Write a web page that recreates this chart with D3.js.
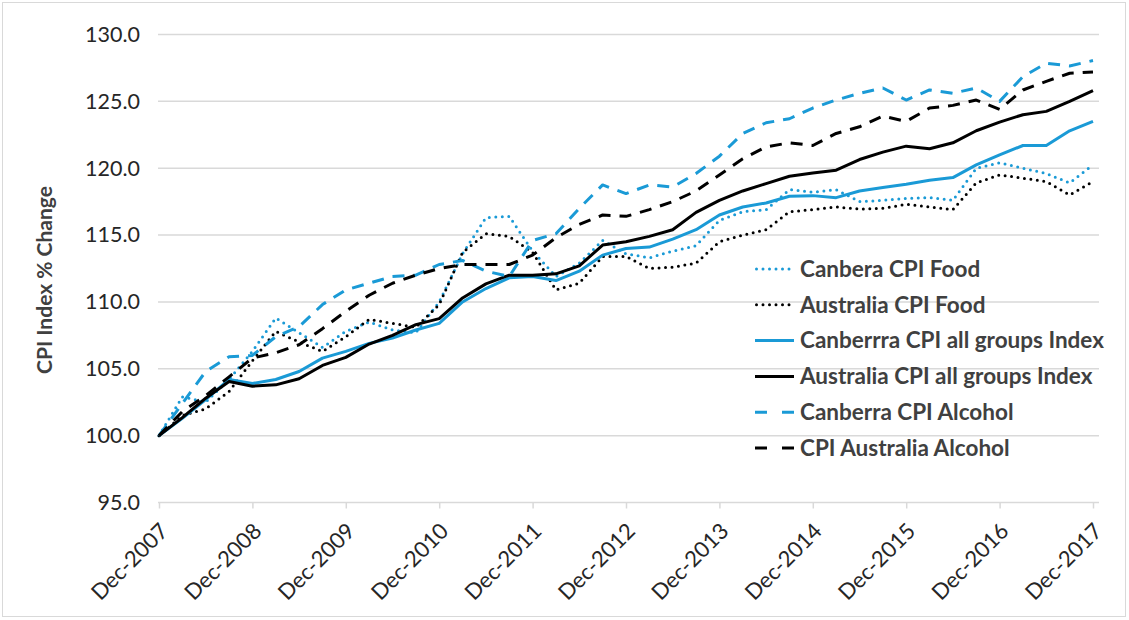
<!DOCTYPE html>
<html lang="en">
<head>
    <meta charset="UTF-8">
    <title>CPI Index % Change</title>
    <script src="https://cdnjs.cloudflare.com/ajax/libs/d3/7.8.5/d3.min.js"></script>
    <style>
        body{margin:0; background:#fff;}
        svg{display:block;}
        .tick text{font-family:Lato, "Open Sans", sans-serif; fill:#262626;}
    </style>
</head>
<body>
    <svg id="chart" width="1129" height="620"></svg>
    <script>
        // quarterly categories, Dec-2007 .. Dec-2017
        var quarters = [
            "Dec-2007","Mar-2008","Jun-2008","Sep-2008","Dec-2008","Mar-2009","Jun-2009","Sep-2009",
            "Dec-2009","Mar-2010","Jun-2010","Sep-2010","Dec-2010","Mar-2011","Jun-2011","Sep-2011",
            "Dec-2011","Mar-2012","Jun-2012","Sep-2012","Dec-2012","Mar-2013","Jun-2013","Sep-2013",
            "Dec-2013","Mar-2014","Jun-2014","Sep-2014","Dec-2014","Mar-2015","Jun-2015","Sep-2015",
            "Dec-2015","Mar-2016","Jun-2016","Sep-2016","Dec-2016","Mar-2017","Jun-2017","Sep-2017",
            "Dec-2017"
        ];
        var xTickLabels = ["Dec-2007","Dec-2008","Dec-2009","Dec-2010","Dec-2011","Dec-2012",
                           "Dec-2013","Dec-2014","Dec-2015","Dec-2016","Dec-2017"];
        var yTicks = [95,100,105,110,115,120,125,130];

        var canberraFood = [100,102.9,102.5,104.2,106.3,108.8,107.7,106.6,107.8,108.5,107.9,107.7,110.0,
            113.6,116.3,116.4,113.8,111.9,112.9,114.6,113.6,113.3,113.8,114.2,116.1,116.75,116.9,118.4,
            118.2,118.4,117.5,117.6,117.75,117.8,117.6,120.0,120.4,120.0,119.6,118.9,120.25];
        var australiaFood = [100,101.5,102.0,103.3,105.6,107.8,107.0,106.3,107.4,108.7,108.4,108.1,109.8,
            113.7,115.1,114.9,113.7,110.9,111.4,113.4,113.4,112.5,112.6,112.9,114.5,115.0,115.4,116.75,
            116.9,117.1,116.95,117.0,117.3,117.1,116.9,118.9,119.5,119.25,119.0,118.0,119.0];
        var canberraAll = [100,101.3,102.7,104.2,103.9,104.2,104.8,105.8,106.3,106.9,107.3,107.9,108.4,
            110.0,111.0,111.8,111.9,111.6,112.3,113.5,114.0,114.1,114.7,115.4,116.5,117.1,117.4,117.9,
            117.95,117.8,118.3,118.55,118.8,119.1,119.3,120.25,121.0,121.7,121.7,122.8,123.5];
        var australiaAll = [100,101.35,102.8,104.05,103.7,103.8,104.25,105.25,105.85,106.85,107.5,108.3,108.75,
            110.3,111.35,112.0,112.0,112.1,112.7,114.25,114.5,114.9,115.4,116.7,117.6,118.3,118.85,119.4,
            119.65,119.85,120.65,121.2,121.65,121.45,121.9,122.8,123.45,124.0,124.25,125.0,125.8];
        var canberraAlcohol = [100,102.4,104.8,105.9,106.0,107.4,108.15,109.8,110.9,111.4,111.9,112.0,112.8,
            113.1,112.3,111.9,114.6,115.1,117.0,118.75,118.1,118.75,118.6,119.6,120.9,122.6,123.4,123.7,
            124.5,125.1,125.6,126.0,125.1,125.85,125.6,126.0,125.0,126.85,127.85,127.65,128.05];
        var australiaAlcohol = [100,101.8,103.0,104.4,105.8,106.2,106.8,108.0,109.3,110.5,111.4,112.0,112.5,
            112.8,112.8,112.8,113.5,114.8,115.8,116.5,116.4,116.9,117.5,118.3,119.5,120.7,121.6,121.9,
            121.7,122.6,123.1,123.9,123.5,124.5,124.7,125.1,124.4,125.85,126.5,127.1,127.2];

        var blue = "#1a9ad6";
        var series = [
            {name:"Canbera CPI Food", values:canberraFood, color:blue, dash:"0,6.5", cap:"round"},
            {name:"Australia CPI Food", values:australiaFood, color:"#000", dash:"0,6.5", cap:"round"},
            {name:"Canberrra CPI all groups Index", values:canberraAll, color:blue, dash:null, cap:"butt"},
            {name:"Australia CPI all groups Index", values:australiaAll, color:"#000", dash:null, cap:"butt"},
            {name:"Canberra CPI Alcohol", values:canberraAlcohol, color:blue, dash:"12,9", cap:"butt"},
            {name:"CPI Australia Alcohol", values:australiaAlcohol, color:"#000", dash:"12,9", cap:"butt"}
        ];

        var svg = d3.select("#chart");
        var plotLeft = 158, plotRight = 1099;

        svg.append("rect")
           .attr("x",2.5).attr("y",2.5).attr("width",1123).attr("height",614)
           .attr("fill","#fff").attr("stroke","#d9d9d9");

        var xScale = d3.scalePoint().domain(quarters).range([159,1093]);
        var yScale = d3.scaleLinear().domain([95,130]).range([502.5,34.5]);

        // gridlines
        svg.append("g").selectAll("line")
           .data(yTicks.slice(1))
           .enter().append("line")
           .attr("x1",plotLeft).attr("x2",plotRight)
           .attr("y1",function(d){ return yScale(d); })
           .attr("y2",function(d){ return yScale(d); })
           .attr("stroke","#d9d9d9").attr("stroke-width",1.5);

        // y axis labels
        var yAxis = d3.axisLeft(yScale).tickValues(yTicks).tickFormat(d3.format(".1f")).tickSize(0).tickPadding(18);
        var gy = svg.append("g").attr("transform","translate("+plotLeft+",0)").call(yAxis);
        gy.select(".domain").remove();
        gy.selectAll("text").style("font-size","21.5px");

        // x axis
        var xAxis = d3.axisBottom(xScale).tickValues(xTickLabels).tickSize(6).tickSizeOuter(0);
        var gx = svg.append("g").attr("transform","translate(0,"+yScale(95)+")").call(xAxis);
        gx.select(".domain").attr("d","M"+plotLeft+",0H"+plotRight).attr("stroke","#d9d9d9").attr("stroke-width",1.5);
        gx.selectAll(".tick line").attr("stroke","#d9d9d9").attr("stroke-width",1.5);
        gx.selectAll("text")
          .style("font-size","22px")
          .attr("text-anchor","end")
          .attr("dy",null).attr("y",0)
          .attr("transform","translate(10,30) rotate(-45)");

        // y axis title
        svg.append("text")
           .attr("transform","translate(52,280) rotate(-90)")
           .attr("text-anchor","middle")
           .style("font-family","Lato, 'Open Sans', sans-serif")
           .style("font-weight","bold").style("font-size","21px").attr("fill","#404040")
           .text("CPI Index % Change");

        // lines
        var line = d3.line()
                     .x(function(d,i){ return xScale(quarters[i]); })
                     .y(function(d){ return yScale(d); });

        svg.append("g").selectAll("path")
           .data(series)
           .enter().append("path")
           .attr("d",function(d){ return line(d.values); })
           .attr("fill","none")
           .attr("stroke",function(d){ return d.color; })
           .attr("stroke-width",3)
           .attr("stroke-linejoin","round")
           .attr("stroke-linecap",function(d){ return d.cap; })
           .attr("stroke-dasharray",function(d){ return d.dash; });

        // legend
        var legend = svg.append("g").attr("transform","translate(755,269)");
        var rows = legend.selectAll("g").data(series).enter().append("g")
                         .attr("transform",function(d,i){ return "translate(0,"+(i*35.8)+")"; });
        rows.append("line")
            .attr("x1",function(d){ return d.cap=="round" ? 1.5 : 0; })
            .attr("x2",39).attr("y1",0).attr("y2",0)
            .attr("stroke",function(d){ return d.color; })
            .attr("stroke-width",3)
            .attr("stroke-linecap",function(d){ return d.cap; })
            .attr("stroke-dasharray",function(d){ return d.dash ? (d.dash=="12,9" ? "12,15" : d.dash) : null; });
        rows.append("text")
            .attr("x",45).attr("y",0).attr("dy","0.35em")
            .style("font-family","Lato, 'Open Sans', sans-serif")
            .style("font-weight","bold").style("font-size","22.5px").attr("fill","#404040")
            .text(function(d){ return d.name; });
    </script>
</body>
</html>
